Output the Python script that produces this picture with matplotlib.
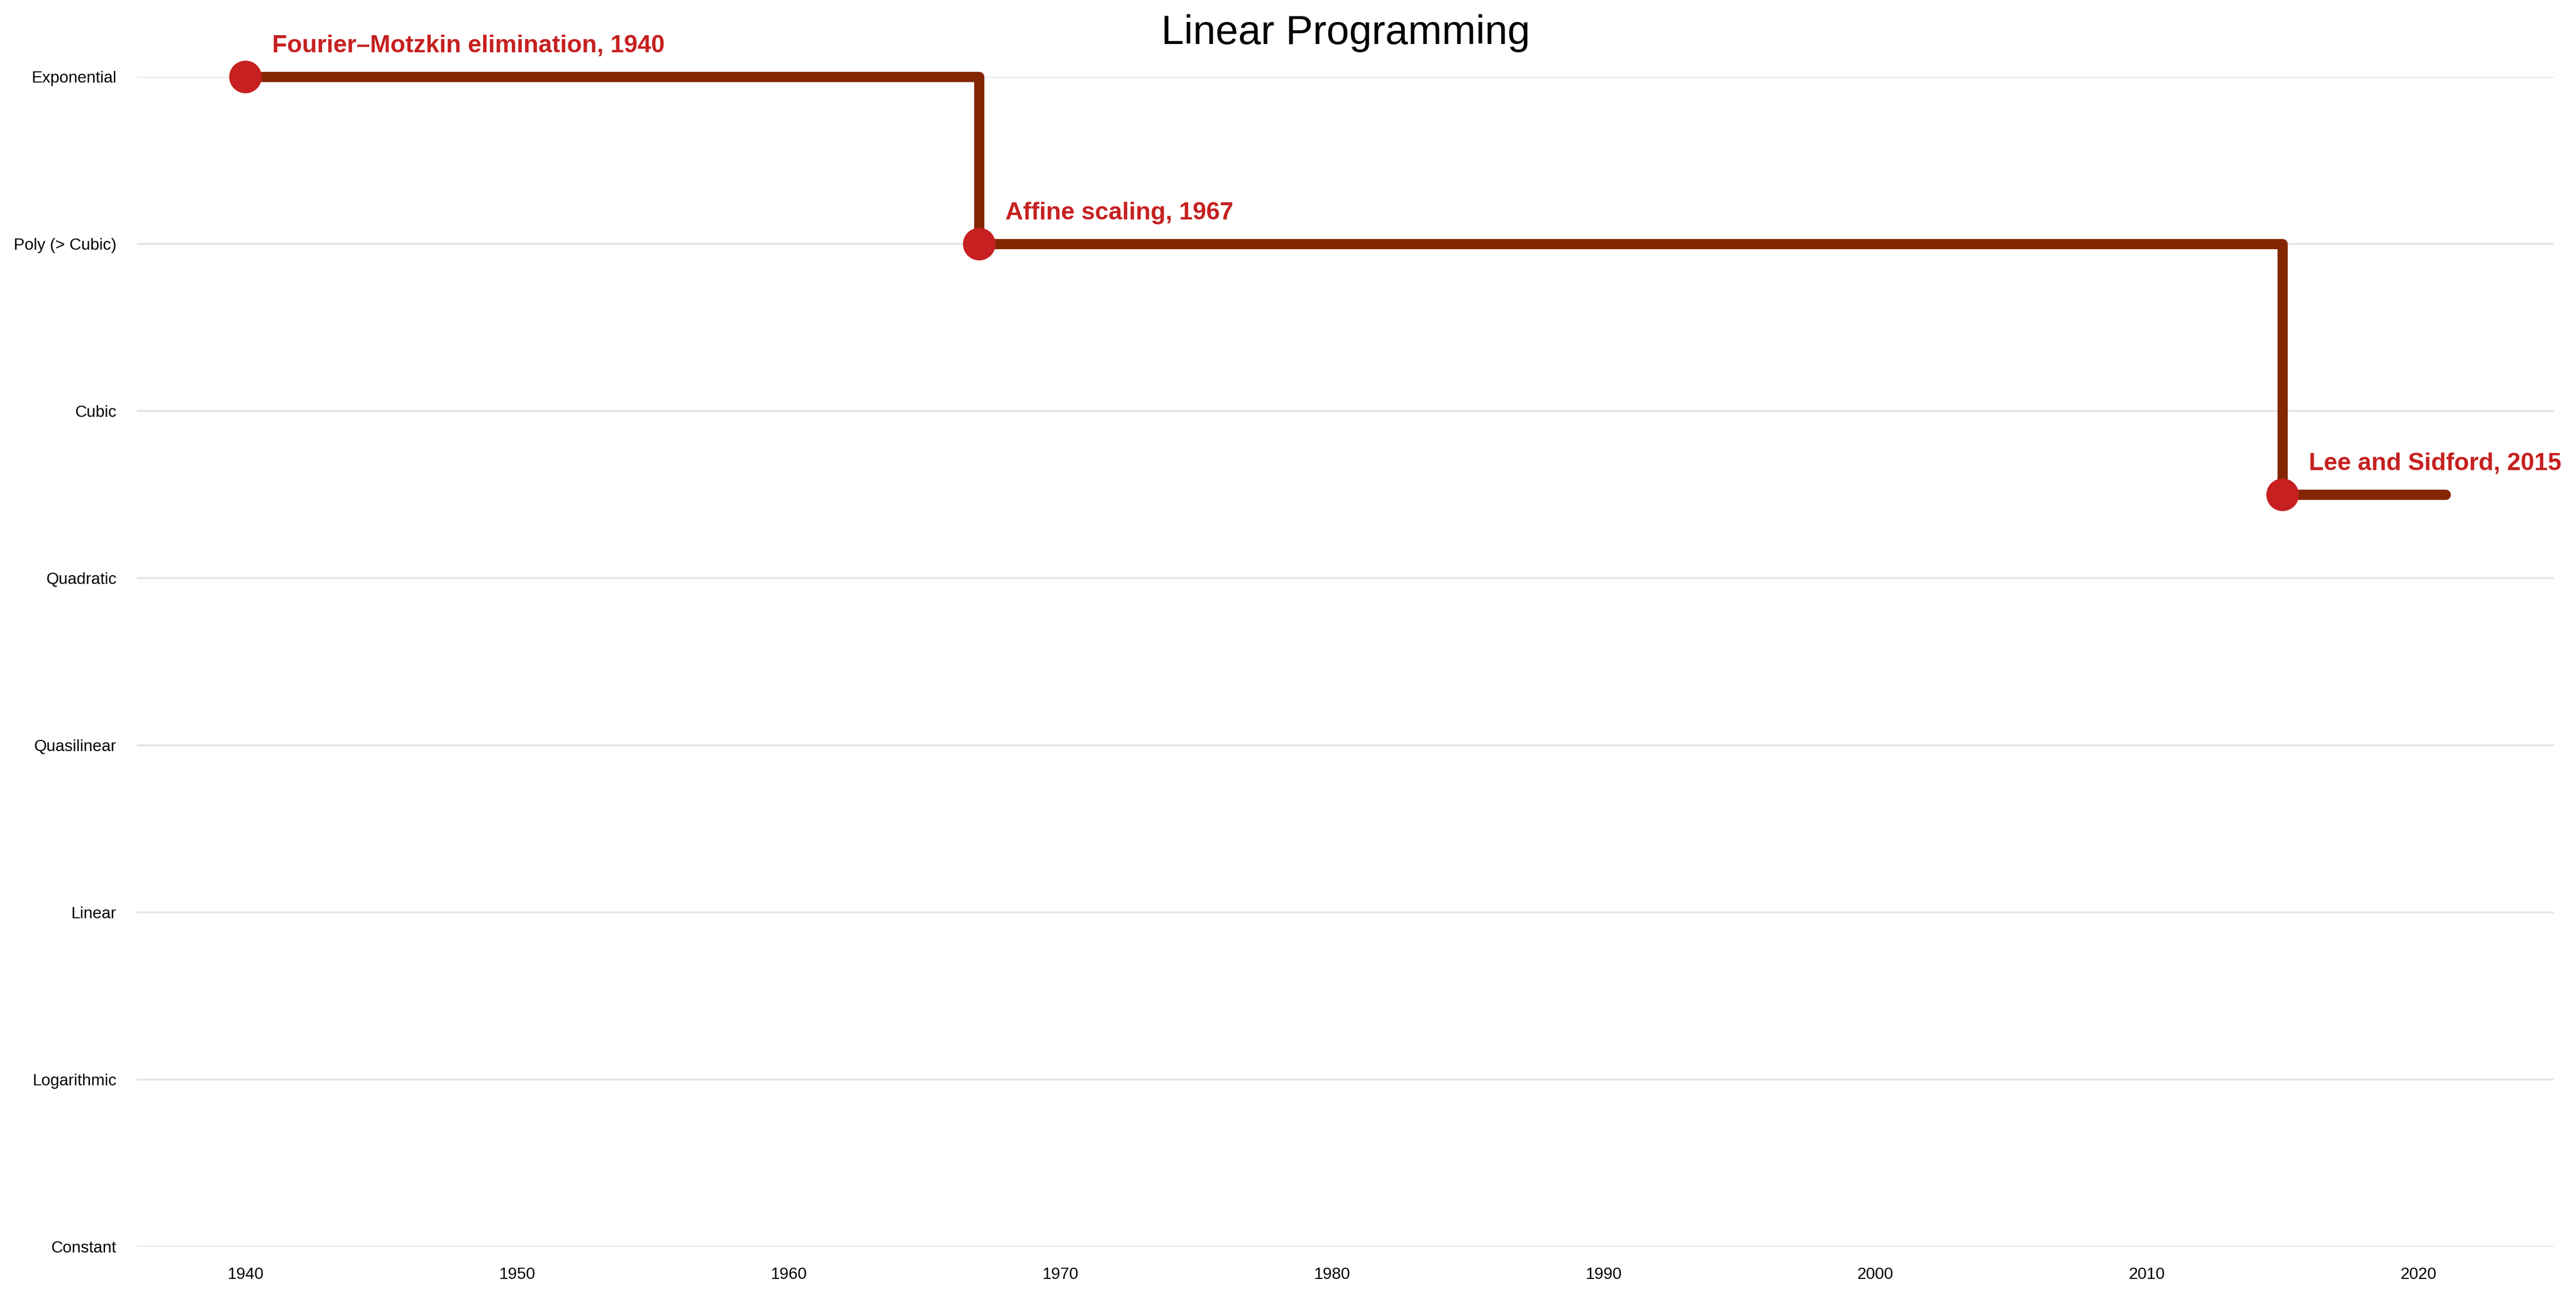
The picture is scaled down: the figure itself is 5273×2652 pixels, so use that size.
import matplotlib.pyplot as plt

plt.rcParams['font.family'] = ['Liberation Sans', 'DejaVu Sans']

complexity_labels = ['Constant', 'Logarithmic', 'Linear', 'Quasilinear',
                     'Quadratic', 'Cubic', 'Poly (> Cubic)', 'Exponential']
year_ticks = [1940, 1950, 1960, 1970, 1980, 1990, 2000, 2010, 2020]

algorithms = ['Fourier\u2013Motzkin elimination', 'Affine scaling', 'Lee and Sidford']
years = [1940, 1967, 2015]
levels = [7, 6, 4.5]
end_year = 2021

line_col = '#842600'
dot_col = '#C62020'

fig = plt.figure(figsize=(5273 / 300, 2652 / 300), dpi=300)
ax = fig.add_axes([0.0531, 0.0381, 0.9384, 0.9027])

ax.step(years + [end_year], levels + [levels[-1]], where='post',
        color=line_col, lw=5, solid_joinstyle='round', solid_capstyle='round',
        zorder=2, clip_on=False)
ax.plot(years, levels, 'o', ms=15, color=dot_col, mec=dot_col, zorder=3, clip_on=False)

for name, yr, lv in zip(algorithms, years, levels):
    ax.annotate(f'{name}, {yr}', (yr, lv), xytext=(13, 12), textcoords='offset points',
                fontsize=12, fontweight='bold', color=dot_col, ha='left', va='baseline')

ax.set_xlim(1936, 2025)
ax.set_ylim(0, 7)
ax.set_xticks(year_ticks)
ax.set_yticks(range(len(complexity_labels)))
ax.set_yticklabels(complexity_labels)
ax.tick_params(length=0, pad=10, labelsize=8)
ax.grid(axis='y', color='#E6E6E6', lw=1)
ax.grid(axis='x', visible=False)
ax.set_axisbelow(True)
for s in ax.spines.values():
    s.set_visible(False)

ax.set_title('Linear Programming', fontsize=20, pad=16)

fig.savefig('out.png', dpi=300)
